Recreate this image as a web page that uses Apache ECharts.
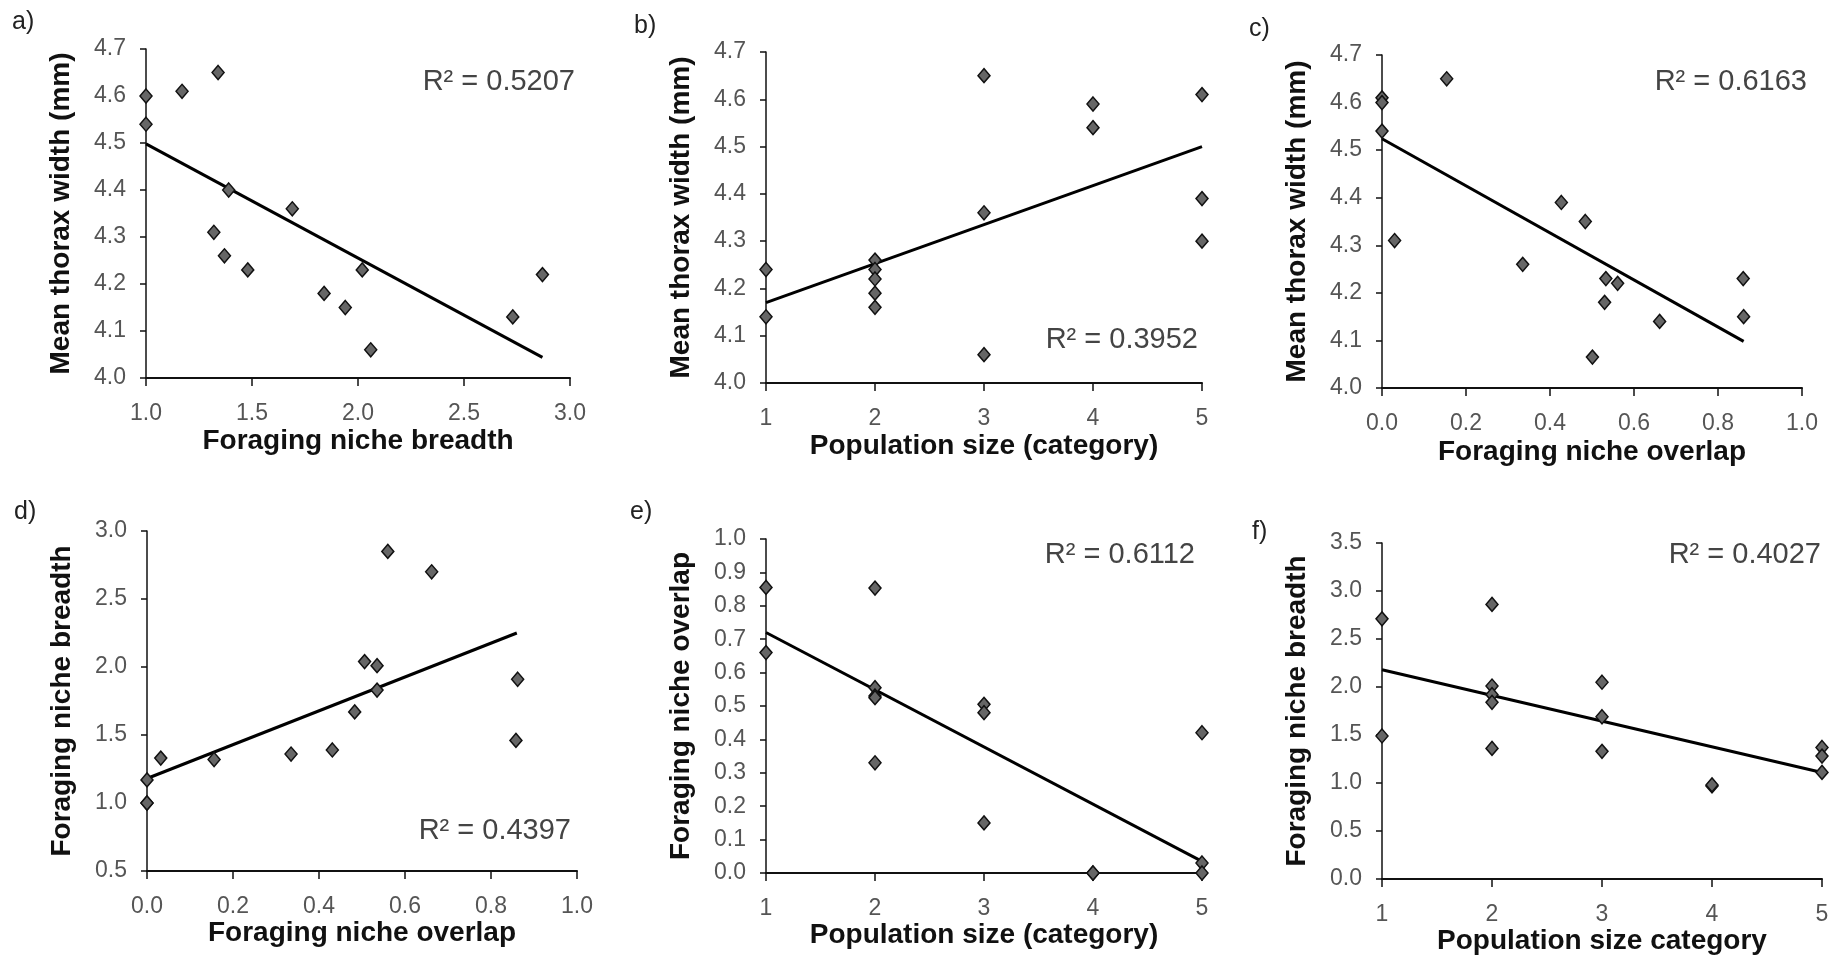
<!DOCTYPE html>
<html lang="en">
<head>
  <meta charset="UTF-8">
  <title>Thorax width, foraging niche breadth and overlap</title>
  <style>
    html, body { margin: 0; padding: 0; background: #fff; }
    #chart { width: 1840px; height: 958px; }
  </style>
  <script src="https://cdn.jsdelivr.net/npm/echarts@6/dist/echarts.min.js"></script>
</head>
<body>
  <div id="chart"></div>
  <script>
    // values, one pair of arrays per panel
    // a) thorax width vs niche breadth
    const breadthA = [1.0, 1.0, 1.17, 1.34, 1.39, 1.32, 1.37, 1.48, 1.69, 1.84, 1.94, 2.02, 2.06, 2.73, 2.87];
    const thoraxA = [4.60, 4.54, 4.61, 4.65, 4.40, 4.31, 4.26, 4.23, 4.36, 4.18, 4.15, 4.23, 4.06, 4.13, 4.22];
    const trendAx = [1.0, 2.87];
    const trendAy = [4.498, 4.044];

    // b) thorax width vs population size
    const popB = [1, 1, 2, 2, 2, 2, 2, 3, 3, 3, 4, 4, 5, 5, 5];
    const thoraxB = [4.24, 4.14, 4.26, 4.24, 4.22, 4.19, 4.16, 4.65, 4.36, 4.06, 4.59, 4.54, 4.61, 4.39, 4.30];
    const trendBx = [1, 5];
    const trendBy = [4.17, 4.50];

    // c) thorax width vs niche overlap
    const overlapC = [0.0, 0.0, 0.0, 0.154, 0.03, 0.335, 0.427, 0.484, 0.533, 0.53, 0.561, 0.501, 0.661, 0.86, 0.861];
    const thoraxC = [4.61, 4.60, 4.54, 4.65, 4.31, 4.26, 4.39, 4.35, 4.23, 4.18, 4.22, 4.065, 4.14, 4.23, 4.15];
    const trendCx = [0.0, 0.861];
    const trendCy = [4.524, 4.098];

    // d) niche breadth vs niche overlap
    const overlapD = [0.0, 0.0, 0.0, 0.032, 0.156, 0.335, 0.431, 0.483, 0.506, 0.535, 0.535, 0.56, 0.662, 0.862, 0.858];
    const breadthD = [1.17, 1.0, 1.0, 1.33, 1.32, 1.36, 1.39, 1.67, 2.04, 2.01, 1.83, 2.85, 2.70, 1.91, 1.46];
    const trendDx = [0.0, 0.86];
    const trendDy = [1.18, 2.25];

    // e) niche overlap vs population size
    const popE = [1, 1, 2, 2, 2, 2, 2, 3, 3, 3, 4, 4, 5, 5, 5];
    const overlapE = [0.855, 0.66, 0.853, 0.555, 0.53, 0.525, 0.33, 0.505, 0.48, 0.15, 0.0, 0.0, 0.42, 0.03, 0.0];
    const trendEx = [1, 5];
    const trendEy = [0.72, 0.035];

    // f) niche breadth vs population size
    const popF = [1, 1, 2, 2, 2, 2, 2, 3, 3, 3, 4, 4, 5, 5, 5];
    const breadthF = [2.71, 1.49, 2.86, 2.01, 1.92, 1.84, 1.36, 2.05, 1.69, 1.33, 0.97, 0.98, 1.37, 1.28, 1.11];
    const trendFx = [1, 5];
    const trendFy = [2.18, 1.11];

    const r2Labels = ['R² = 0.5207', 'R² = 0.3952', 'R² = 0.6163', 'R² = 0.4397', 'R² = 0.6112', 'R² = 0.4027'];

    const FONT = '"Liberation Sans", Arial, sans-serif';

    function zip(xs, ys) {
      return xs.map((x, i) => [x, ys[i]]);
    }

    // box = [left, top, right, bottom] of the plot area in px
    const panels = [
      { letter: 'a)', pts: zip(breadthA, thoraxA), trend: zip(trendAx, trendAy),
        xMin: 1, xMax: 3, xStep: 0.5, xDec: 1, yMin: 4.0, yMax: 4.7, yStep: 0.1,
        xName: 'Foraging niche breadth', yName: 'Mean thorax width (mm)',
        box: [146, 49, 570, 378], nameGap: 49, letterAt: [12, 10], r2At: [575, 82] },
      { letter: 'b)', pts: zip(popB, thoraxB), trend: zip(trendBx, trendBy),
        xMin: 1, xMax: 5, xStep: 1, xDec: 0, yMin: 4.0, yMax: 4.7, yStep: 0.1,
        xName: 'Population size (category)', yName: 'Mean thorax width (mm)',
        box: [766, 52, 1202, 383], nameGap: 49, letterAt: [634, 14], r2At: [1198, 340] },
      { letter: 'c)', pts: zip(overlapC, thoraxC), trend: zip(trendCx, trendCy),
        xMin: 0, xMax: 1, xStep: 0.2, xDec: 1, yMin: 4.0, yMax: 4.7, yStep: 0.1,
        xName: 'Foraging niche overlap', yName: 'Mean thorax width (mm)',
        box: [1382, 55, 1802, 388], nameGap: 50, letterAt: [1249, 17], r2At: [1807, 82] },
      { letter: 'd)', pts: zip(overlapD, breadthD), trend: zip(trendDx, trendDy),
        xMin: 0, xMax: 1, xStep: 0.2, xDec: 1, yMin: 0.5, yMax: 3.0, yStep: 0.5,
        xName: 'Foraging niche overlap', yName: 'Foraging niche breadth',
        box: [147, 531, 577, 871], nameGap: 47, letterAt: [14, 500], r2At: [571, 831] },
      { letter: 'e)', pts: zip(popE, overlapE), trend: zip(trendEx, trendEy),
        xMin: 1, xMax: 5, xStep: 1, xDec: 0, yMin: 0, yMax: 1.0, yStep: 0.1,
        xName: 'Population size (category)', yName: 'Foraging niche overlap',
        box: [766, 539, 1202, 873], nameGap: 47, letterAt: [630, 500], r2At: [1195, 555] },
      { letter: 'f)', pts: zip(popF, breadthF), trend: zip(trendFx, trendFy),
        xMin: 1, xMax: 5, xStep: 1, xDec: 0, yMin: 0, yMax: 3.5, yStep: 0.5,
        xName: 'Population size category', yName: 'Foraging niche breadth',
        box: [1382, 543, 1822, 879], nameGap: 44, letterAt: [1252, 520], r2At: [1821, 555] }
    ];

    const grid = [], xAxis = [], yAxis = [], series = [], graphic = [];

    panels.forEach((p, i) => {
      const b = p.box;
      grid.push({ left: b[0], top: b[1], width: b[2] - b[0], height: b[3] - b[1] });

      xAxis.push({
        gridIndex: i, type: 'value', min: p.xMin, max: p.xMax, interval: p.xStep,
        name: p.xName, nameLocation: 'middle', nameGap: p.nameGap,
        nameTextStyle: { fontFamily: FONT, fontSize: 28, fontWeight: 'bold', color: '#111' },
        axisLine: { onZero: false, lineStyle: { color: '#111', width: 2 } },
        axisTick: { show: true, length: 8, lineStyle: { color: '#111', width: 1.5 } },
        axisLabel: { margin: 24, fontFamily: FONT, fontSize: 23, color: '#555',
          formatter: v => v.toFixed(p.xDec) },
        splitLine: { show: false }
      });

      yAxis.push({
        gridIndex: i, type: 'value', min: p.yMin, max: p.yMax, interval: p.yStep,
        name: p.yName, nameLocation: 'middle', nameGap: 71,
        nameTextStyle: { fontFamily: FONT, fontSize: 28, fontWeight: 'bold', color: '#111' },
        axisLine: { show: true, onZero: false, lineStyle: { color: '#111', width: 1.5 } },
        axisTick: { show: true, length: 6, lineStyle: { color: '#111', width: 1.5 } },
        axisLabel: { margin: 20, fontFamily: FONT, fontSize: 23, color: '#555',
          formatter: v => v.toFixed(1) },
        splitLine: { show: false }
      });

      series.push({
        type: 'line', xAxisIndex: i, yAxisIndex: i, data: p.trend,
        showSymbol: false, silent: true, z: 2,
        lineStyle: { color: '#000', width: 3 }
      });

      series.push({
        type: 'scatter', xAxisIndex: i, yAxisIndex: i, data: p.pts,
        symbol: 'diamond', symbolSize: [12, 14], z: 3,
        itemStyle: { color: '#666', borderColor: '#111', borderWidth: 1.5, opacity: 1 }
      });

      graphic.push({
        type: 'text', x: p.letterAt[0], y: p.letterAt[1],
        style: { text: p.letter, font: '25px ' + FONT, fill: '#222' }
      });

      graphic.push({
        type: 'text', x: p.r2At[0], y: p.r2At[1],
        style: { text: r2Labels[i], font: '29px ' + FONT, fill: '#444',
          align: 'right', verticalAlign: 'middle' }
      });
    });

    const chart = echarts.init(document.getElementById('chart'));
    chart.setOption({
      animation: false,
      backgroundColor: '#fff',
      grid: grid,
      xAxis: xAxis,
      yAxis: yAxis,
      series: series,
      graphic: graphic
    });
  </script>
</body>
</html>
